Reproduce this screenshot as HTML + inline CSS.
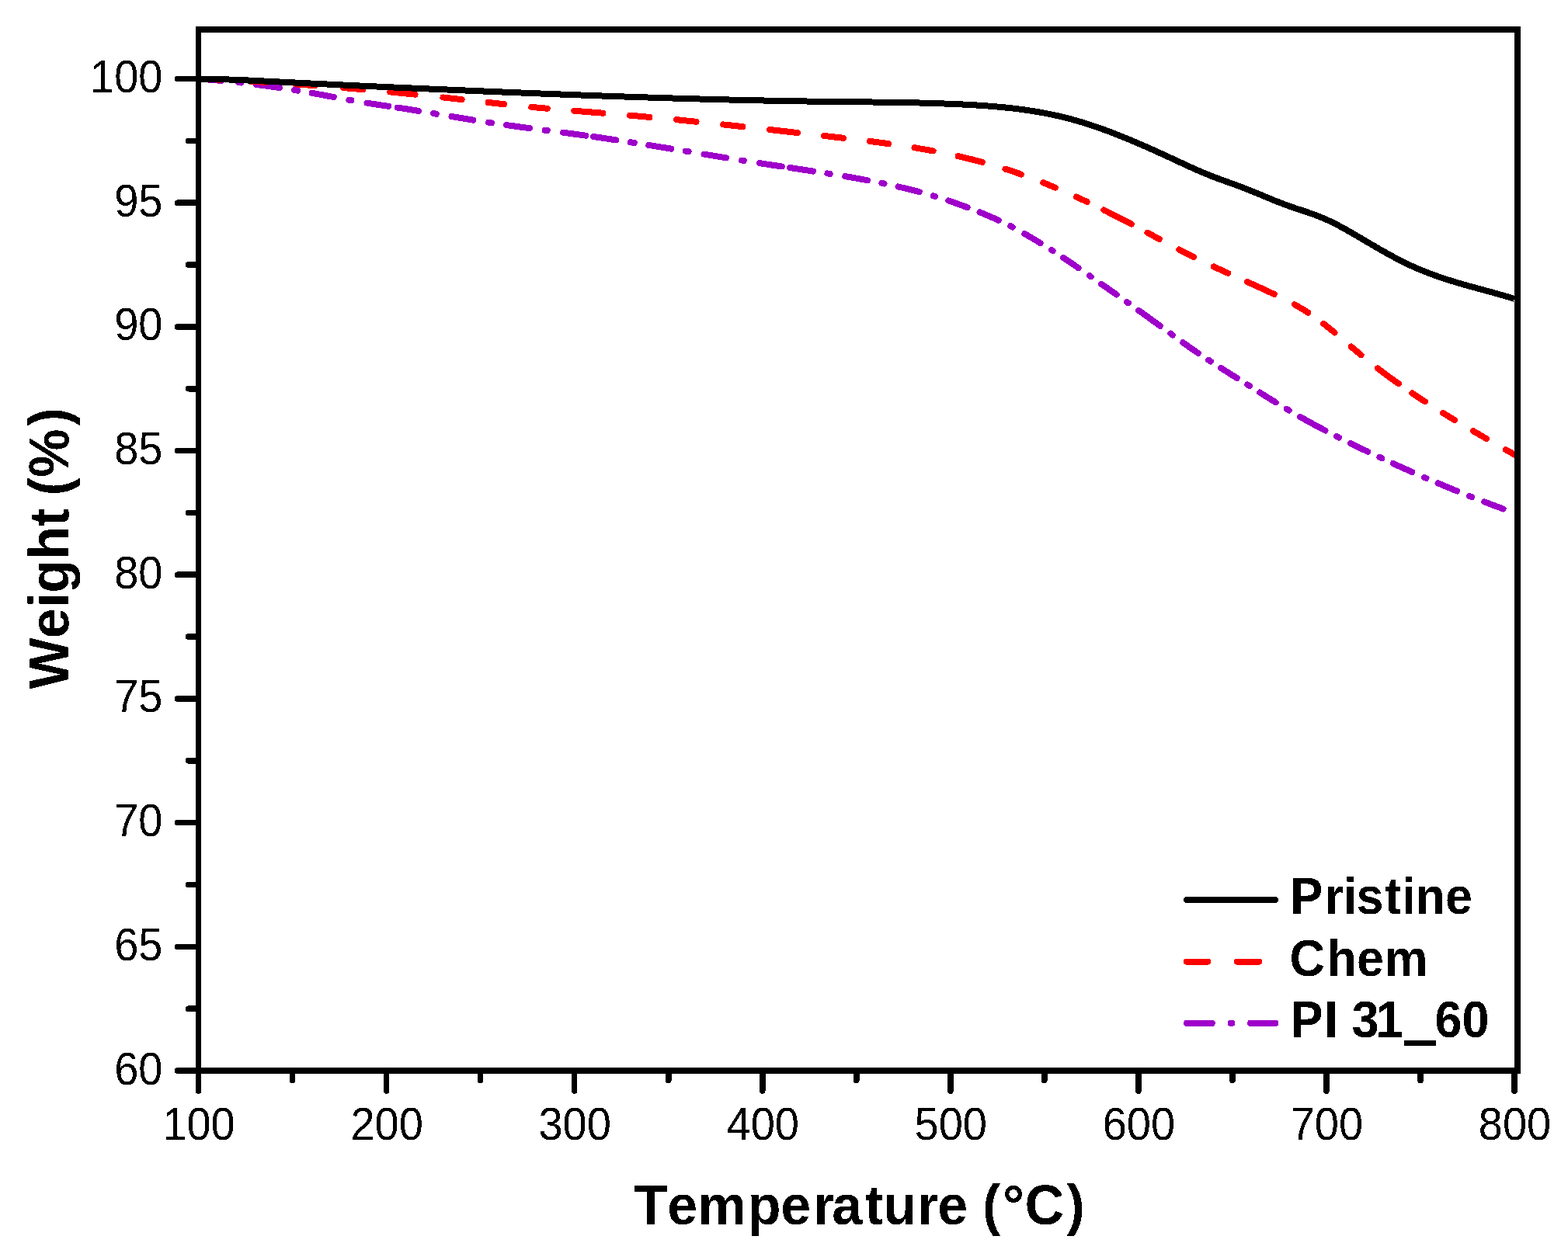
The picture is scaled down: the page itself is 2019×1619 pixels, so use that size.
<!DOCTYPE html>
<html><head><meta charset="utf-8"><title>TGA</title>
<style>html,body{margin:0;padding:0;background:#fff;width:2019px;height:1619px;overflow:hidden}svg{display:block}</style>
</head><body>
<svg width="2019" height="1619" viewBox="0 0 2019 1619" shape-rendering="crispEdges">
<rect width="2019" height="1619" fill="#fff"/>
<defs><filter id="crisp" x="-5%" y="-20%" width="110%" height="140%"><feComponentTransfer><feFuncA type="discrete" tableValues="0 1"/></feComponentTransfer></filter></defs>
<path d="M255.5 101.50 L258.5 101.72 L261.5 101.95 L264.5 102.18 L267.5 102.42 L270.5 102.67 L273.5 102.92 L276.5 103.18 L279.5 103.45 L282.5 103.72 L285.5 104.00 L288.5 104.29 L291.5 104.58 L294.5 104.88 L297.5 105.18 L300.5 105.49 L303.5 105.81 L306.5 106.14 L309.5 106.47 L312.5 106.80 L315.5 107.15 L318.5 107.50 L321.5 107.86 L324.5 108.22 L327.5 108.59 L330.5 108.97 L333.5 109.35 L336.5 109.74 L339.5 110.13 L342.5 110.54 L345.5 110.95 L348.5 111.36 L351.5 111.78 L354.5 112.21 L357.5 112.65 L360.5 113.09 L363.5 113.54 L366.5 113.99 L369.5 114.45 L372.5 114.92 L375.5 115.40 L378.5 115.88 L381.5 116.37 L384.5 116.86 L387.5 117.36 L390.5 117.87 L393.5 118.39 L396.5 118.91 L399.5 119.44 L402.5 119.97 L405.5 120.51 L408.5 121.06 L411.5 121.61 L414.5 122.16 L417.5 122.72 L420.5 123.28 L423.5 123.85 L426.5 124.41 L429.5 124.98 L432.5 125.54 L435.5 126.10 L438.5 126.67 L441.5 127.22 L444.5 127.78 L447.5 128.33 L450.5 128.88 L453.5 129.42 L456.5 129.95 L459.5 130.47 L462.5 130.99 L465.5 131.50 L468.5 132.00 L471.5 132.49 L474.5 132.97 L477.5 133.44 L480.5 133.90 L483.5 134.36 L486.5 134.81 L489.5 135.26 L492.5 135.70 L495.5 136.15 L498.5 136.59 L501.5 137.03 L504.5 137.48 L507.5 137.92 L510.5 138.38 L513.5 138.83 L516.5 139.29 L519.5 139.76 L522.5 140.23 L525.5 140.71 L528.5 141.19 L531.5 141.67 L534.5 142.16 L537.5 142.64 L540.5 143.14 L543.5 143.63 L546.5 144.13 L549.5 144.63 L552.5 145.13 L555.5 145.63 L558.5 146.14 L561.5 146.64 L564.5 147.15 L567.5 147.66 L570.5 148.16 L573.5 148.67 L576.5 149.18 L579.5 149.68 L582.5 150.19 L585.5 150.69 L588.5 151.20 L591.5 151.70 L594.5 152.20 L597.5 152.70 L600.5 153.19 L603.5 153.69 L606.5 154.18 L609.5 154.66 L612.5 155.15 L615.5 155.62 L618.5 156.10 L621.5 156.57 L624.5 157.04 L627.5 157.50 L630.5 157.96 L633.5 158.41 L636.5 158.86 L639.5 159.30 L642.5 159.74 L645.5 160.17 L648.5 160.60 L651.5 161.02 L654.5 161.44 L657.5 161.86 L660.5 162.27 L663.5 162.68 L666.5 163.09 L669.5 163.50 L672.5 163.90 L675.5 164.30 L678.5 164.70 L681.5 165.09 L684.5 165.48 L687.5 165.88 L690.5 166.27 L693.5 166.66 L696.5 167.05 L699.5 167.44 L702.5 167.82 L705.5 168.21 L708.5 168.60 L711.5 168.99 L714.5 169.38 L717.5 169.77 L720.5 170.16 L723.5 170.55 L726.5 170.94 L729.5 171.33 L732.5 171.73 L735.5 172.12 L738.5 172.52 L741.5 172.93 L744.5 173.33 L747.5 173.74 L750.5 174.15 L753.5 174.56 L756.5 174.98 L759.5 175.40 L762.5 175.82 L765.5 176.25 L768.5 176.68 L771.5 177.11 L774.5 177.54 L777.5 177.98 L780.5 178.43 L783.5 178.87 L786.5 179.32 L789.5 179.77 L792.5 180.22 L795.5 180.68 L798.5 181.14 L801.5 181.60 L804.5 182.06 L807.5 182.53 L810.5 182.99 L813.5 183.46 L816.5 183.93 L819.5 184.41 L822.5 184.88 L825.5 185.36 L828.5 185.84 L831.5 186.32 L834.5 186.80 L837.5 187.28 L840.5 187.77 L843.5 188.26 L846.5 188.74 L849.5 189.23 L852.5 189.72 L855.5 190.21 L858.5 190.70 L861.5 191.20 L864.5 191.69 L867.5 192.18 L870.5 192.68 L873.5 193.17 L876.5 193.67 L879.5 194.16 L882.5 194.66 L885.5 195.15 L888.5 195.65 L891.5 196.15 L894.5 196.64 L897.5 197.14 L900.5 197.63 L903.5 198.13 L906.5 198.63 L909.5 199.12 L912.5 199.61 L915.5 200.11 L918.5 200.60 L921.5 201.09 L924.5 201.59 L927.5 202.08 L930.5 202.57 L933.5 203.05 L936.5 203.54 L939.5 204.03 L942.5 204.51 L945.5 205.00 L948.5 205.48 L951.5 205.96 L954.5 206.44 L957.5 206.92 L960.5 207.39 L963.5 207.86 L966.5 208.34 L969.5 208.81 L972.5 209.27 L975.5 209.74 L978.5 210.20 L981.5 210.66 L984.5 211.12 L987.5 211.58 L990.5 212.04 L993.5 212.49 L996.5 212.94 L999.5 213.39 L1002.5 213.84 L1005.5 214.29 L1008.5 214.74 L1011.5 215.19 L1014.5 215.64 L1017.5 216.09 L1020.5 216.54 L1023.5 216.99 L1026.5 217.44 L1029.5 217.89 L1032.5 218.34 L1035.5 218.80 L1038.5 219.25 L1041.5 219.71 L1044.5 220.17 L1047.5 220.63 L1050.5 221.09 L1053.5 221.55 L1056.5 222.02 L1059.5 222.49 L1062.5 222.96 L1065.5 223.43 L1068.5 223.91 L1071.5 224.39 L1074.5 224.88 L1077.5 225.37 L1080.5 225.86 L1083.5 226.36 L1086.5 226.86 L1089.5 227.36 L1092.5 227.88 L1095.5 228.39 L1098.5 228.91 L1101.5 229.44 L1104.5 229.97 L1107.5 230.51 L1110.5 231.06 L1113.5 231.61 L1116.5 232.17 L1119.5 232.73 L1122.5 233.31 L1125.5 233.89 L1128.5 234.48 L1131.5 235.08 L1134.5 235.69 L1137.5 236.31 L1140.5 236.94 L1143.5 237.57 L1146.5 238.22 L1149.5 238.88 L1152.5 239.55 L1155.5 240.23 L1158.5 240.92 L1161.5 241.62 L1164.5 242.34 L1167.5 243.06 L1170.5 243.80 L1173.5 244.56 L1176.5 245.32 L1179.5 246.10 L1182.5 246.89 L1185.5 247.70 L1188.5 248.52 L1191.5 249.36 L1194.5 250.21 L1197.5 251.08 L1200.5 251.96 L1203.5 252.86 L1206.5 253.77 L1209.5 254.70 L1212.5 255.64 L1215.5 256.61 L1218.5 257.58 L1221.5 258.58 L1224.5 259.59 L1227.5 260.62 L1230.5 261.66 L1233.5 262.72 L1236.5 263.79 L1239.5 264.88 L1242.5 265.99 L1245.5 267.11 L1248.5 268.25 L1251.5 269.40 L1254.5 270.57 L1257.5 271.76 L1260.5 272.95 L1263.5 274.16 L1266.5 275.39 L1269.5 276.63 L1272.5 277.89 L1275.5 279.17 L1278.5 280.47 L1281.5 281.80 L1284.5 283.15 L1287.5 284.53 L1290.5 285.94 L1293.5 287.37 L1296.5 288.84 L1299.5 290.35 L1302.5 291.89 L1305.5 293.46 L1308.5 295.07 L1311.5 296.71 L1314.5 298.38 L1317.5 300.07 L1320.5 301.78 L1323.5 303.51 L1326.5 305.26 L1329.5 307.02 L1332.5 308.80 L1335.5 310.60 L1338.5 312.42 L1341.5 314.25 L1344.5 316.11 L1347.5 317.97 L1350.5 319.86 L1353.5 321.76 L1356.5 323.68 L1359.5 325.62 L1362.5 327.57 L1365.5 329.54 L1368.5 331.52 L1371.5 333.52 L1374.5 335.53 L1377.5 337.56 L1380.5 339.60 L1383.5 341.65 L1386.5 343.71 L1389.5 345.78 L1392.5 347.86 L1395.5 349.94 L1398.5 352.03 L1401.5 354.12 L1404.5 356.22 L1407.5 358.31 L1410.5 360.41 L1413.5 362.51 L1416.5 364.61 L1419.5 366.72 L1422.5 368.83 L1425.5 370.94 L1428.5 373.05 L1431.5 375.16 L1434.5 377.28 L1437.5 379.40 L1440.5 381.52 L1443.5 383.65 L1446.5 385.78 L1449.5 387.91 L1452.5 390.04 L1455.5 392.18 L1458.5 394.32 L1461.5 396.47 L1464.5 398.61 L1467.5 400.77 L1470.5 402.92 L1473.5 405.08 L1476.5 407.24 L1479.5 409.41 L1482.5 411.58 L1485.5 413.76 L1488.5 415.93 L1491.5 418.12 L1494.5 420.31 L1497.5 422.50 L1500.5 424.69 L1503.5 426.88 L1506.5 429.08 L1509.5 431.27 L1512.5 433.45 L1515.5 435.63 L1518.5 437.80 L1521.5 439.96 L1524.5 442.11 L1527.5 444.24 L1530.5 446.36 L1533.5 448.46 L1536.5 450.55 L1539.5 452.61 L1542.5 454.65 L1545.5 456.67 L1548.5 458.67 L1551.5 460.65 L1554.5 462.61 L1557.5 464.56 L1560.5 466.49 L1563.5 468.42 L1566.5 470.34 L1569.5 472.25 L1572.5 474.15 L1575.5 476.06 L1578.5 477.96 L1581.5 479.87 L1584.5 481.77 L1587.5 483.67 L1590.5 485.57 L1593.5 487.47 L1596.5 489.36 L1599.5 491.26 L1602.5 493.15 L1605.5 495.04 L1608.5 496.93 L1611.5 498.82 L1614.5 500.71 L1617.5 502.60 L1620.5 504.48 L1623.5 506.36 L1626.5 508.24 L1629.5 510.12 L1632.5 511.99 L1635.5 513.85 L1638.5 515.71 L1641.5 517.56 L1644.5 519.41 L1647.5 521.24 L1650.5 523.06 L1653.5 524.87 L1656.5 526.66 L1659.5 528.44 L1662.5 530.21 L1665.5 531.96 L1668.5 533.70 L1671.5 535.42 L1674.5 537.13 L1677.5 538.82 L1680.5 540.50 L1683.5 542.17 L1686.5 543.83 L1689.5 545.47 L1692.5 547.10 L1695.5 548.72 L1698.5 550.33 L1701.5 551.92 L1704.5 553.51 L1707.5 555.08 L1710.5 556.65 L1713.5 558.20 L1716.5 559.74 L1719.5 561.28 L1722.5 562.80 L1725.5 564.32 L1728.5 565.83 L1731.5 567.33 L1734.5 568.82 L1737.5 570.30 L1740.5 571.77 L1743.5 573.24 L1746.5 574.70 L1749.5 576.16 L1752.5 577.60 L1755.5 579.05 L1758.5 580.48 L1761.5 581.91 L1764.5 583.34 L1767.5 584.76 L1770.5 586.17 L1773.5 587.58 L1776.5 588.98 L1779.5 590.38 L1782.5 591.78 L1785.5 593.16 L1788.5 594.55 L1791.5 595.92 L1794.5 597.29 L1797.5 598.66 L1800.5 600.02 L1803.5 601.38 L1806.5 602.73 L1809.5 604.07 L1812.5 605.41 L1815.5 606.74 L1818.5 608.07 L1821.5 609.39 L1824.5 610.71 L1827.5 612.02 L1830.5 613.33 L1833.5 614.63 L1836.5 615.92 L1839.5 617.21 L1842.5 618.50 L1845.5 619.77 L1848.5 621.05 L1851.5 622.31 L1854.5 623.57 L1857.5 624.83 L1860.5 626.08 L1863.5 627.32 L1866.5 628.56 L1869.5 629.79 L1872.5 631.02 L1875.5 632.24 L1878.5 633.46 L1881.5 634.67 L1884.5 635.87 L1887.5 637.07 L1890.5 638.26 L1893.5 639.45 L1896.5 640.63 L1899.5 641.80 L1902.5 642.97 L1905.5 644.13 L1908.5 645.29 L1911.5 646.44 L1914.5 647.59 L1917.5 648.73 L1920.5 649.86 L1923.5 650.99 L1926.5 652.11 L1929.5 653.22 L1932.5 654.33 L1935.5 655.44 L1938.5 656.54 L1941.5 657.63 L1944.5 658.71 L1947.5 659.79 L1950.0 660.69" fill="none" stroke="#9E00CA" stroke-width="8" stroke-linecap="round" stroke-linejoin="round" stroke-dasharray="29.50 22.21 3.12 19.84 30.48 19.13 4.36 18.67 28.68 19.94 3.15 20.29 28.12 11.53 27.64 19.26 3.85 19.98 28.28 20.04 3.84 19.30 30.07 19.87 3.13 20.47 29.46 10.00 29.41 18.72 5.06 18.83 29.48 18.75 3.85 20.07 28.88 20.46 2.63 20.55 28.93 10.62 30.04 18.72 3.24 19.96 29.05 18.85 3.17 18.43 28.03 18.60 2.51 18.16 25.68 17.28 26.32 17.12 2.82 17.69 23.69 16.74 2.14 16.00 23.69 17.29 2.32 16.24 23.97 16.43 2.21 16.35 34.19 16.60 3.34 16.41 23.90 16.06 3.22 15.78 24.39 15.73 3.19 15.83 24.14 16.37 3.60 16.52 36.90 16.20 3.48 16.87 24.55 16.81 3.31 15.86 26.86 17.35 2.50 16.41 26.51 17.24 3.33 17.06 26.17 115.31"/>
<path d="M255.5 101.50 L258.5 101.62 L261.5 101.74 L264.5 101.87 L267.5 102.00 L270.5 102.13 L273.5 102.26 L276.5 102.40 L279.5 102.54 L282.5 102.67 L285.5 102.82 L288.5 102.96 L291.5 103.11 L294.5 103.25 L297.5 103.40 L300.5 103.55 L303.5 103.71 L306.5 103.87 L309.5 104.02 L312.5 104.18 L315.5 104.35 L318.5 104.51 L321.5 104.68 L324.5 104.85 L327.5 105.02 L330.5 105.19 L333.5 105.37 L336.5 105.54 L339.5 105.72 L342.5 105.91 L345.5 106.09 L348.5 106.27 L351.5 106.46 L354.5 106.65 L357.5 106.84 L360.5 107.04 L363.5 107.23 L366.5 107.43 L369.5 107.63 L372.5 107.83 L375.5 108.04 L378.5 108.24 L381.5 108.45 L384.5 108.66 L387.5 108.87 L390.5 109.09 L393.5 109.30 L396.5 109.52 L399.5 109.74 L402.5 109.96 L405.5 110.19 L408.5 110.41 L411.5 110.64 L414.5 110.87 L417.5 111.10 L420.5 111.34 L423.5 111.57 L426.5 111.81 L429.5 112.05 L432.5 112.29 L435.5 112.54 L438.5 112.78 L441.5 113.03 L444.5 113.28 L447.5 113.53 L450.5 113.78 L453.5 114.04 L456.5 114.30 L459.5 114.56 L462.5 114.82 L465.5 115.08 L468.5 115.35 L471.5 115.61 L474.5 115.88 L477.5 116.15 L480.5 116.42 L483.5 116.70 L486.5 116.98 L489.5 117.25 L492.5 117.53 L495.5 117.82 L498.5 118.10 L501.5 118.39 L504.5 118.67 L507.5 118.96 L510.5 119.25 L513.5 119.55 L516.5 119.84 L519.5 120.14 L522.5 120.44 L525.5 120.74 L528.5 121.04 L531.5 121.34 L534.5 121.65 L537.5 121.96 L540.5 122.27 L543.5 122.58 L546.5 122.89 L549.5 123.21 L552.5 123.53 L555.5 123.84 L558.5 124.16 L561.5 124.49 L564.5 124.81 L567.5 125.14 L570.5 125.46 L573.5 125.79 L576.5 126.12 L579.5 126.46 L582.5 126.79 L585.5 127.13 L588.5 127.46 L591.5 127.80 L594.5 128.13 L597.5 128.47 L600.5 128.81 L603.5 129.15 L606.5 129.49 L609.5 129.83 L612.5 130.16 L615.5 130.50 L618.5 130.84 L621.5 131.18 L624.5 131.51 L627.5 131.85 L630.5 132.18 L633.5 132.52 L636.5 132.85 L639.5 133.18 L642.5 133.51 L645.5 133.84 L648.5 134.16 L651.5 134.49 L654.5 134.81 L657.5 135.13 L660.5 135.44 L663.5 135.76 L666.5 136.07 L669.5 136.38 L672.5 136.68 L675.5 136.98 L678.5 137.28 L681.5 137.58 L684.5 137.87 L687.5 138.16 L690.5 138.44 L693.5 138.72 L696.5 139.00 L699.5 139.28 L702.5 139.55 L705.5 139.82 L708.5 140.09 L711.5 140.35 L714.5 140.61 L717.5 140.87 L720.5 141.13 L723.5 141.39 L726.5 141.64 L729.5 141.90 L732.5 142.15 L735.5 142.40 L738.5 142.64 L741.5 142.89 L744.5 143.14 L747.5 143.38 L750.5 143.63 L753.5 143.87 L756.5 144.12 L759.5 144.36 L762.5 144.60 L765.5 144.84 L768.5 145.09 L771.5 145.33 L774.5 145.57 L777.5 145.82 L780.5 146.06 L783.5 146.31 L786.5 146.55 L789.5 146.80 L792.5 147.05 L795.5 147.30 L798.5 147.55 L801.5 147.80 L804.5 148.06 L807.5 148.31 L810.5 148.57 L813.5 148.83 L816.5 149.09 L819.5 149.36 L822.5 149.63 L825.5 149.89 L828.5 150.16 L831.5 150.44 L834.5 150.71 L837.5 150.99 L840.5 151.26 L843.5 151.54 L846.5 151.82 L849.5 152.11 L852.5 152.39 L855.5 152.68 L858.5 152.97 L861.5 153.26 L864.5 153.55 L867.5 153.84 L870.5 154.14 L873.5 154.43 L876.5 154.73 L879.5 155.03 L882.5 155.33 L885.5 155.63 L888.5 155.94 L891.5 156.24 L894.5 156.55 L897.5 156.86 L900.5 157.17 L903.5 157.48 L906.5 157.79 L909.5 158.10 L912.5 158.41 L915.5 158.73 L918.5 159.05 L921.5 159.36 L924.5 159.68 L927.5 160.00 L930.5 160.32 L933.5 160.65 L936.5 160.97 L939.5 161.29 L942.5 161.62 L945.5 161.94 L948.5 162.27 L951.5 162.60 L954.5 162.93 L957.5 163.26 L960.5 163.59 L963.5 163.92 L966.5 164.25 L969.5 164.58 L972.5 164.92 L975.5 165.25 L978.5 165.58 L981.5 165.92 L984.5 166.26 L987.5 166.59 L990.5 166.93 L993.5 167.27 L996.5 167.60 L999.5 167.94 L1002.5 168.28 L1005.5 168.62 L1008.5 168.96 L1011.5 169.30 L1014.5 169.64 L1017.5 169.98 L1020.5 170.32 L1023.5 170.66 L1026.5 171.00 L1029.5 171.35 L1032.5 171.69 L1035.5 172.03 L1038.5 172.37 L1041.5 172.71 L1044.5 173.06 L1047.5 173.40 L1050.5 173.74 L1053.5 174.08 L1056.5 174.43 L1059.5 174.77 L1062.5 175.11 L1065.5 175.45 L1068.5 175.80 L1071.5 176.14 L1074.5 176.48 L1077.5 176.83 L1080.5 177.17 L1083.5 177.52 L1086.5 177.87 L1089.5 178.22 L1092.5 178.57 L1095.5 178.93 L1098.5 179.28 L1101.5 179.64 L1104.5 180.00 L1107.5 180.37 L1110.5 180.74 L1113.5 181.11 L1116.5 181.48 L1119.5 181.86 L1122.5 182.25 L1125.5 182.63 L1128.5 183.02 L1131.5 183.42 L1134.5 183.82 L1137.5 184.23 L1140.5 184.64 L1143.5 185.05 L1146.5 185.48 L1149.5 185.90 L1152.5 186.34 L1155.5 186.78 L1158.5 187.22 L1161.5 187.68 L1164.5 188.14 L1167.5 188.60 L1170.5 189.08 L1173.5 189.56 L1176.5 190.05 L1179.5 190.55 L1182.5 191.05 L1185.5 191.57 L1188.5 192.09 L1191.5 192.62 L1194.5 193.16 L1197.5 193.71 L1200.5 194.27 L1203.5 194.84 L1206.5 195.41 L1209.5 196.00 L1212.5 196.60 L1215.5 197.21 L1218.5 197.82 L1221.5 198.45 L1224.5 199.09 L1227.5 199.75 L1230.5 200.41 L1233.5 201.08 L1236.5 201.77 L1239.5 202.47 L1242.5 203.18 L1245.5 203.90 L1248.5 204.63 L1251.5 205.38 L1254.5 206.14 L1257.5 206.92 L1260.5 207.71 L1263.5 208.51 L1266.5 209.32 L1269.5 210.15 L1272.5 210.99 L1275.5 211.85 L1278.5 212.73 L1281.5 213.61 L1284.5 214.52 L1287.5 215.43 L1290.5 216.37 L1293.5 217.32 L1296.5 218.28 L1299.5 219.26 L1302.5 220.26 L1305.5 221.27 L1308.5 222.29 L1311.5 223.34 L1314.5 224.39 L1317.5 225.46 L1320.5 226.55 L1323.5 227.65 L1326.5 228.77 L1329.5 229.90 L1332.5 231.04 L1335.5 232.19 L1338.5 233.37 L1341.5 234.55 L1344.5 235.75 L1347.5 236.96 L1350.5 238.18 L1353.5 239.42 L1356.5 240.67 L1359.5 241.93 L1362.5 243.20 L1365.5 244.49 L1368.5 245.79 L1371.5 247.10 L1374.5 248.42 L1377.5 249.75 L1380.5 251.10 L1383.5 252.45 L1386.5 253.82 L1389.5 255.20 L1392.5 256.59 L1395.5 257.99 L1398.5 259.40 L1401.5 260.82 L1404.5 262.25 L1407.5 263.69 L1410.5 265.14 L1413.5 266.60 L1416.5 268.07 L1419.5 269.55 L1422.5 271.03 L1425.5 272.53 L1428.5 274.04 L1431.5 275.55 L1434.5 277.07 L1437.5 278.61 L1440.5 280.15 L1443.5 281.69 L1446.5 283.25 L1449.5 284.81 L1452.5 286.38 L1455.5 287.96 L1458.5 289.55 L1461.5 291.14 L1464.5 292.74 L1467.5 294.34 L1470.5 295.95 L1473.5 297.56 L1476.5 299.18 L1479.5 300.79 L1482.5 302.41 L1485.5 304.03 L1488.5 305.65 L1491.5 307.26 L1494.5 308.88 L1497.5 310.49 L1500.5 312.09 L1503.5 313.70 L1506.5 315.29 L1509.5 316.89 L1512.5 318.47 L1515.5 320.05 L1518.5 321.62 L1521.5 323.17 L1524.5 324.72 L1527.5 326.26 L1530.5 327.79 L1533.5 329.30 L1536.5 330.80 L1539.5 332.29 L1542.5 333.76 L1545.5 335.22 L1548.5 336.67 L1551.5 338.10 L1554.5 339.53 L1557.5 340.95 L1560.5 342.35 L1563.5 343.75 L1566.5 345.14 L1569.5 346.52 L1572.5 347.89 L1575.5 349.26 L1578.5 350.63 L1581.5 351.99 L1584.5 353.35 L1587.5 354.70 L1590.5 356.05 L1593.5 357.40 L1596.5 358.75 L1599.5 360.10 L1602.5 361.45 L1605.5 362.80 L1608.5 364.15 L1611.5 365.50 L1614.5 366.86 L1617.5 368.23 L1620.5 369.59 L1623.5 370.97 L1626.5 372.35 L1629.5 373.73 L1632.5 375.13 L1635.5 376.53 L1638.5 377.94 L1641.5 379.37 L1644.5 380.80 L1647.5 382.25 L1650.5 383.71 L1653.5 385.20 L1656.5 386.71 L1659.5 388.26 L1662.5 389.83 L1665.5 391.45 L1668.5 393.10 L1671.5 394.80 L1674.5 396.54 L1677.5 398.34 L1680.5 400.19 L1683.5 402.10 L1686.5 404.08 L1689.5 406.11 L1692.5 408.21 L1695.5 410.36 L1698.5 412.57 L1701.5 414.83 L1704.5 417.13 L1707.5 419.48 L1710.5 421.86 L1713.5 424.28 L1716.5 426.74 L1719.5 429.23 L1722.5 431.74 L1725.5 434.27 L1728.5 436.82 L1731.5 439.38 L1734.5 441.95 L1737.5 444.52 L1740.5 447.09 L1743.5 449.65 L1746.5 452.20 L1749.5 454.73 L1752.5 457.24 L1755.5 459.72 L1758.5 462.17 L1761.5 464.60 L1764.5 467.00 L1767.5 469.37 L1770.5 471.72 L1773.5 474.04 L1776.5 476.34 L1779.5 478.62 L1782.5 480.88 L1785.5 483.11 L1788.5 485.32 L1791.5 487.51 L1794.5 489.68 L1797.5 491.84 L1800.5 493.97 L1803.5 496.09 L1806.5 498.19 L1809.5 500.27 L1812.5 502.33 L1815.5 504.38 L1818.5 506.41 L1821.5 508.43 L1824.5 510.43 L1827.5 512.42 L1830.5 514.39 L1833.5 516.35 L1836.5 518.30 L1839.5 520.23 L1842.5 522.15 L1845.5 524.05 L1848.5 525.95 L1851.5 527.83 L1854.5 529.70 L1857.5 531.56 L1860.5 533.41 L1863.5 535.25 L1866.5 537.08 L1869.5 538.90 L1872.5 540.71 L1875.5 542.51 L1878.5 544.30 L1881.5 546.09 L1884.5 547.87 L1887.5 549.64 L1890.5 551.40 L1893.5 553.15 L1896.5 554.90 L1899.5 556.65 L1902.5 558.39 L1905.5 560.12 L1908.5 561.85 L1911.5 563.58 L1914.5 565.30 L1917.5 567.01 L1920.5 568.73 L1923.5 570.44 L1926.5 572.15 L1929.5 573.86 L1932.5 575.56 L1935.5 577.26 L1938.5 578.97 L1941.5 580.67 L1944.5 582.37 L1947.5 584.07 L1950.0 585.49" fill="none" stroke="#FF0000" stroke-width="8" stroke-linecap="round" stroke-linejoin="round" stroke-dasharray="27.53 38.95 21.24 37.78 24.76 36.81 25.29 35.05 32.36 36.10 24.35 34.21 20.62 35.39 20.49 34.73 37.32 34.72 25.50 34.86 25.53 34.79 25.45 34.81 36.23 34.22 24.96 34.25 24.41 33.78 24.47 32.78 31.95 30.97 21.64 30.36 16.76 29.71 15.11 24.01 40.01 23.25 17.49 28.88 20.99 28.72 20.02 27.31 38.31 29.36 20.17 24.50 18.22 28.21 16.50 27.53 33.30 21.39 19.78 27.33 17.56 27.65 20.09 28.31 12.88 100.00"/>
<path d="M255.5 101.50 L258.5 101.54 L261.5 101.58 L264.5 101.64 L267.5 101.70 L270.5 101.76 L273.5 101.83 L276.5 101.91 L279.5 101.99 L282.5 102.08 L285.5 102.17 L288.5 102.27 L291.5 102.37 L294.5 102.48 L297.5 102.59 L300.5 102.70 L303.5 102.82 L306.5 102.94 L309.5 103.07 L312.5 103.20 L315.5 103.33 L318.5 103.46 L321.5 103.60 L324.5 103.74 L327.5 103.88 L330.5 104.03 L333.5 104.17 L336.5 104.32 L339.5 104.47 L342.5 104.62 L345.5 104.77 L348.5 104.92 L351.5 105.07 L354.5 105.22 L357.5 105.38 L360.5 105.53 L363.5 105.68 L366.5 105.83 L369.5 105.98 L372.5 106.13 L375.5 106.28 L378.5 106.43 L381.5 106.58 L384.5 106.73 L387.5 106.88 L390.5 107.03 L393.5 107.18 L396.5 107.32 L399.5 107.47 L402.5 107.62 L405.5 107.76 L408.5 107.91 L411.5 108.05 L414.5 108.20 L417.5 108.34 L420.5 108.49 L423.5 108.63 L426.5 108.77 L429.5 108.92 L432.5 109.06 L435.5 109.20 L438.5 109.34 L441.5 109.49 L444.5 109.63 L447.5 109.77 L450.5 109.91 L453.5 110.05 L456.5 110.19 L459.5 110.33 L462.5 110.47 L465.5 110.60 L468.5 110.74 L471.5 110.88 L474.5 111.02 L477.5 111.16 L480.5 111.29 L483.5 111.43 L486.5 111.57 L489.5 111.70 L492.5 111.84 L495.5 111.98 L498.5 112.11 L501.5 112.25 L504.5 112.38 L507.5 112.52 L510.5 112.65 L513.5 112.78 L516.5 112.92 L519.5 113.05 L522.5 113.19 L525.5 113.32 L528.5 113.45 L531.5 113.58 L534.5 113.72 L537.5 113.85 L540.5 113.98 L543.5 114.11 L546.5 114.24 L549.5 114.37 L552.5 114.51 L555.5 114.64 L558.5 114.77 L561.5 114.90 L564.5 115.03 L567.5 115.16 L570.5 115.29 L573.5 115.42 L576.5 115.55 L579.5 115.68 L582.5 115.81 L585.5 115.94 L588.5 116.06 L591.5 116.19 L594.5 116.32 L597.5 116.45 L600.5 116.58 L603.5 116.71 L606.5 116.83 L609.5 116.96 L612.5 117.09 L615.5 117.22 L618.5 117.34 L621.5 117.47 L624.5 117.59 L627.5 117.72 L630.5 117.85 L633.5 117.97 L636.5 118.10 L639.5 118.22 L642.5 118.35 L645.5 118.47 L648.5 118.59 L651.5 118.72 L654.5 118.84 L657.5 118.96 L660.5 119.09 L663.5 119.21 L666.5 119.33 L669.5 119.45 L672.5 119.58 L675.5 119.70 L678.5 119.82 L681.5 119.94 L684.5 120.06 L687.5 120.18 L690.5 120.30 L693.5 120.42 L696.5 120.54 L699.5 120.65 L702.5 120.77 L705.5 120.89 L708.5 121.01 L711.5 121.12 L714.5 121.24 L717.5 121.36 L720.5 121.47 L723.5 121.59 L726.5 121.70 L729.5 121.82 L732.5 121.93 L735.5 122.04 L738.5 122.16 L741.5 122.27 L744.5 122.38 L747.5 122.50 L750.5 122.61 L753.5 122.72 L756.5 122.83 L759.5 122.94 L762.5 123.05 L765.5 123.16 L768.5 123.27 L771.5 123.37 L774.5 123.48 L777.5 123.59 L780.5 123.70 L783.5 123.80 L786.5 123.91 L789.5 124.01 L792.5 124.12 L795.5 124.22 L798.5 124.33 L801.5 124.43 L804.5 124.53 L807.5 124.63 L810.5 124.73 L813.5 124.84 L816.5 124.94 L819.5 125.04 L822.5 125.13 L825.5 125.23 L828.5 125.33 L831.5 125.43 L834.5 125.53 L837.5 125.62 L840.5 125.72 L843.5 125.81 L846.5 125.91 L849.5 126.00 L852.5 126.10 L855.5 126.19 L858.5 126.28 L861.5 126.37 L864.5 126.46 L867.5 126.55 L870.5 126.64 L873.5 126.73 L876.5 126.82 L879.5 126.91 L882.5 127.00 L885.5 127.08 L888.5 127.17 L891.5 127.25 L894.5 127.34 L897.5 127.42 L900.5 127.50 L903.5 127.59 L906.5 127.67 L909.5 127.75 L912.5 127.83 L915.5 127.91 L918.5 127.99 L921.5 128.07 L924.5 128.14 L927.5 128.22 L930.5 128.30 L933.5 128.37 L936.5 128.45 L939.5 128.52 L942.5 128.59 L945.5 128.66 L948.5 128.74 L951.5 128.81 L954.5 128.88 L957.5 128.95 L960.5 129.01 L963.5 129.08 L966.5 129.15 L969.5 129.21 L972.5 129.28 L975.5 129.34 L978.5 129.41 L981.5 129.47 L984.5 129.53 L987.5 129.59 L990.5 129.65 L993.5 129.71 L996.5 129.77 L999.5 129.83 L1002.5 129.89 L1005.5 129.94 L1008.5 130.00 L1011.5 130.05 L1014.5 130.11 L1017.5 130.16 L1020.5 130.21 L1023.5 130.26 L1026.5 130.31 L1029.5 130.36 L1032.5 130.41 L1035.5 130.46 L1038.5 130.50 L1041.5 130.55 L1044.5 130.59 L1047.5 130.64 L1050.5 130.68 L1053.5 130.72 L1056.5 130.76 L1059.5 130.80 L1062.5 130.84 L1065.5 130.88 L1068.5 130.92 L1071.5 130.95 L1074.5 130.99 L1077.5 131.02 L1080.5 131.06 L1083.5 131.09 L1086.5 131.12 L1089.5 131.15 L1092.5 131.18 L1095.5 131.22 L1098.5 131.25 L1101.5 131.28 L1104.5 131.31 L1107.5 131.34 L1110.5 131.37 L1113.5 131.40 L1116.5 131.43 L1119.5 131.47 L1122.5 131.50 L1125.5 131.53 L1128.5 131.57 L1131.5 131.61 L1134.5 131.64 L1137.5 131.68 L1140.5 131.72 L1143.5 131.76 L1146.5 131.81 L1149.5 131.85 L1152.5 131.90 L1155.5 131.95 L1158.5 132.00 L1161.5 132.05 L1164.5 132.10 L1167.5 132.16 L1170.5 132.22 L1173.5 132.28 L1176.5 132.34 L1179.5 132.41 L1182.5 132.48 L1185.5 132.56 L1188.5 132.63 L1191.5 132.71 L1194.5 132.79 L1197.5 132.88 L1200.5 132.97 L1203.5 133.06 L1206.5 133.16 L1209.5 133.26 L1212.5 133.37 L1215.5 133.48 L1218.5 133.59 L1221.5 133.71 L1224.5 133.83 L1227.5 133.95 L1230.5 134.08 L1233.5 134.22 L1236.5 134.36 L1239.5 134.51 L1242.5 134.66 L1245.5 134.81 L1248.5 134.98 L1251.5 135.14 L1254.5 135.32 L1257.5 135.50 L1260.5 135.69 L1263.5 135.89 L1266.5 136.10 L1269.5 136.31 L1272.5 136.54 L1275.5 136.77 L1278.5 137.01 L1281.5 137.27 L1284.5 137.53 L1287.5 137.81 L1290.5 138.09 L1293.5 138.39 L1296.5 138.70 L1299.5 139.03 L1302.5 139.36 L1305.5 139.71 L1308.5 140.07 L1311.5 140.45 L1314.5 140.84 L1317.5 141.25 L1320.5 141.67 L1323.5 142.10 L1326.5 142.56 L1329.5 143.02 L1332.5 143.51 L1335.5 144.01 L1338.5 144.53 L1341.5 145.07 L1344.5 145.63 L1347.5 146.20 L1350.5 146.79 L1353.5 147.41 L1356.5 148.04 L1359.5 148.69 L1362.5 149.36 L1365.5 150.06 L1368.5 150.77 L1371.5 151.51 L1374.5 152.27 L1377.5 153.05 L1380.5 153.85 L1383.5 154.68 L1386.5 155.53 L1389.5 156.40 L1392.5 157.29 L1395.5 158.21 L1398.5 159.15 L1401.5 160.11 L1404.5 161.08 L1407.5 162.08 L1410.5 163.10 L1413.5 164.13 L1416.5 165.19 L1419.5 166.26 L1422.5 167.35 L1425.5 168.46 L1428.5 169.58 L1431.5 170.72 L1434.5 171.87 L1437.5 173.04 L1440.5 174.23 L1443.5 175.42 L1446.5 176.64 L1449.5 177.86 L1452.5 179.10 L1455.5 180.35 L1458.5 181.61 L1461.5 182.88 L1464.5 184.16 L1467.5 185.46 L1470.5 186.76 L1473.5 188.08 L1476.5 189.40 L1479.5 190.73 L1482.5 192.07 L1485.5 193.41 L1488.5 194.76 L1491.5 196.12 L1494.5 197.49 L1497.5 198.86 L1500.5 200.24 L1503.5 201.62 L1506.5 203.00 L1509.5 204.39 L1512.5 205.79 L1515.5 207.18 L1518.5 208.58 L1521.5 209.97 L1524.5 211.36 L1527.5 212.75 L1530.5 214.12 L1533.5 215.49 L1536.5 216.84 L1539.5 218.19 L1542.5 219.51 L1545.5 220.82 L1548.5 222.10 L1551.5 223.36 L1554.5 224.60 L1557.5 225.81 L1560.5 227.00 L1563.5 228.15 L1566.5 229.28 L1569.5 230.39 L1572.5 231.48 L1575.5 232.57 L1578.5 233.64 L1581.5 234.71 L1584.5 235.79 L1587.5 236.86 L1590.5 237.95 L1593.5 239.05 L1596.5 240.16 L1599.5 241.30 L1602.5 242.45 L1605.5 243.63 L1608.5 244.83 L1611.5 246.04 L1614.5 247.27 L1617.5 248.50 L1620.5 249.75 L1623.5 250.99 L1626.5 252.24 L1629.5 253.49 L1632.5 254.74 L1635.5 255.98 L1638.5 257.20 L1641.5 258.42 L1644.5 259.62 L1647.5 260.81 L1650.5 261.97 L1653.5 263.11 L1656.5 264.22 L1659.5 265.31 L1662.5 266.36 L1665.5 267.39 L1668.5 268.40 L1671.5 269.40 L1674.5 270.39 L1677.5 271.38 L1680.5 272.37 L1683.5 273.38 L1686.5 274.40 L1689.5 275.45 L1692.5 276.53 L1695.5 277.65 L1698.5 278.81 L1701.5 280.02 L1704.5 281.29 L1707.5 282.61 L1710.5 283.99 L1713.5 285.41 L1716.5 286.89 L1719.5 288.40 L1722.5 289.96 L1725.5 291.55 L1728.5 293.17 L1731.5 294.82 L1734.5 296.51 L1737.5 298.21 L1740.5 299.93 L1743.5 301.67 L1746.5 303.42 L1749.5 305.19 L1752.5 306.96 L1755.5 308.73 L1758.5 310.50 L1761.5 312.27 L1764.5 314.03 L1767.5 315.79 L1770.5 317.53 L1773.5 319.27 L1776.5 320.99 L1779.5 322.70 L1782.5 324.39 L1785.5 326.07 L1788.5 327.73 L1791.5 329.37 L1794.5 330.98 L1797.5 332.58 L1800.5 334.15 L1803.5 335.69 L1806.5 337.21 L1809.5 338.69 L1812.5 340.15 L1815.5 341.57 L1818.5 342.96 L1821.5 344.31 L1824.5 345.63 L1827.5 346.91 L1830.5 348.16 L1833.5 349.38 L1836.5 350.57 L1839.5 351.73 L1842.5 352.86 L1845.5 353.96 L1848.5 355.04 L1851.5 356.10 L1854.5 357.13 L1857.5 358.14 L1860.5 359.12 L1863.5 360.09 L1866.5 361.04 L1869.5 361.97 L1872.5 362.89 L1875.5 363.79 L1878.5 364.68 L1881.5 365.56 L1884.5 366.42 L1887.5 367.28 L1890.5 368.12 L1893.5 368.96 L1896.5 369.79 L1899.5 370.62 L1902.5 371.44 L1905.5 372.26 L1908.5 373.08 L1911.5 373.90 L1914.5 374.72 L1917.5 375.54 L1920.5 376.36 L1923.5 377.19 L1926.5 378.02 L1929.5 378.86 L1932.5 379.71 L1935.5 380.57 L1938.5 381.44 L1941.5 382.32 L1944.5 383.21 L1947.5 384.12 L1950.0 384.88" fill="none" stroke="#000" stroke-width="8" stroke-linecap="butt" stroke-linejoin="round"/>
<g fill="#000">
<rect x="252" y="34" width="7" height="1349"/>
<rect x="252" y="34" width="1706" height="8"/>
<rect x="1950" y="34" width="8" height="1349"/>
<rect x="252" y="1375" width="1706" height="8"/>
</g>
<path d="M255.5 1380 L255.5 1405 M376.5 1380 L376.5 1391.5 M497.6 1380 L497.6 1405 M618.6 1380 L618.6 1391.5 M739.6 1380 L739.6 1405 M860.7 1380 L860.7 1391.5 M981.7 1380 L981.7 1405 M1102.8 1380 L1102.8 1391.5 M1223.8 1380 L1223.8 1405 M1344.8 1380 L1344.8 1391.5 M1465.9 1380 L1465.9 1405 M1586.9 1380 L1586.9 1391.5 M1707.9 1380 L1707.9 1405 M1829.0 1380 L1829.0 1391.5 M1950.0 1380 L1950.0 1405 M255 101.5 L228.5 101.5 M255 181.3 L242.5 181.3 M255 261.2 L228.5 261.2 M255 341.0 L242.5 341.0 M255 420.9 L228.5 420.9 M255 500.7 L242.5 500.7 M255 580.6 L228.5 580.6 M255 660.4 L242.5 660.4 M255 740.2 L228.5 740.2 M255 820.1 L242.5 820.1 M255 899.9 L228.5 899.9 M255 979.8 L242.5 979.8 M255 1059.6 L228.5 1059.6 M255 1139.5 L242.5 1139.5 M255 1219.3 L228.5 1219.3 M255 1299.2 L242.5 1299.2 M255 1379.0 L228.5 1379.0" stroke="#000" stroke-width="7.6" stroke-linecap="round" fill="none"/>
<g font-family="'Liberation Sans', Arial, sans-serif" font-size="56" fill="#000" filter="url(#crisp)"><text transform="translate(256.0 1468) scale(1 1.05)" text-anchor="middle">100</text><text transform="translate(498.1 1468) scale(1 1.05)" text-anchor="middle">200</text><text transform="translate(740.1 1468) scale(1 1.05)" text-anchor="middle">300</text><text transform="translate(982.2 1468) scale(1 1.05)" text-anchor="middle">400</text><text transform="translate(1224.3 1468) scale(1 1.05)" text-anchor="middle">500</text><text transform="translate(1466.4 1468) scale(1 1.05)" text-anchor="middle">600</text><text transform="translate(1708.4 1468) scale(1 1.05)" text-anchor="middle">700</text><text transform="translate(1950.5 1468) scale(1 1.05)" text-anchor="middle">800</text><text transform="translate(209.5 119.0) scale(1 1.05)" text-anchor="end">100</text><text transform="translate(209.5 278.7) scale(1 1.05)" text-anchor="end">95</text><text transform="translate(209.5 438.4) scale(1 1.05)" text-anchor="end">90</text><text transform="translate(209.5 598.1) scale(1 1.05)" text-anchor="end">85</text><text transform="translate(209.5 757.8) scale(1 1.05)" text-anchor="end">80</text><text transform="translate(209.5 917.4) scale(1 1.05)" text-anchor="end">75</text><text transform="translate(209.5 1077.1) scale(1 1.05)" text-anchor="end">70</text><text transform="translate(209.5 1236.8) scale(1 1.05)" text-anchor="end">65</text><text transform="translate(209.5 1396.5) scale(1 1.05)" text-anchor="end">60</text></g>
<g filter="url(#crisp)">
<text transform="translate(0 1577) scale(1 1.04)" x="816.4 859.3 898.5 962.8 1005.3 1047.3 1071.3 1113.8 1137.3 1181.2 1207.2 1245.2 1265.0 1291.1 1319.6 1373.5" y="0" font-family="'Liberation Sans', Arial, sans-serif" font-weight="bold" font-size="70">Temperature (°C)</text>
<text transform="translate(88 0) rotate(-90) scale(1 1.04)" x="-887.4 -822.3 -782.4 -763.8 -720.8 -677.9 -653.9 -638.4 -614.8 -548.4" y="0" font-family="'Liberation Sans', Arial, sans-serif" font-weight="bold" font-size="70">Weight (%)</text>
</g>
<path d="M1528 1159 L1642 1159" stroke="#000" stroke-width="8.3" stroke-linecap="round"/>
<path d="M1528 1238.6 L1555 1238.6 M1593 1238.6 L1621 1238.6" stroke="#FF0000" stroke-width="8" stroke-linecap="round"/>
<path d="M1528 1317.8 L1560.7 1317.8 M1584.5 1317.8 L1586.5 1317.8 M1610 1317.8 L1642.4 1317.8" stroke="#9E00CA" stroke-width="8" stroke-linecap="round"/>
<g font-family="'Liberation Sans', Arial, sans-serif" font-weight="bold" font-size="63" fill="#000" filter="url(#crisp)">
<text transform="translate(0 1177.0) scale(1 1.05)" x="1661.3 1705.4 1730.1 1746.4 1783.0 1805.2 1822.5 1861.0" y="0">Pristine</text>
<text transform="translate(0 1256.5) scale(1 1.05)" x="1660.5 1708.5 1747.0 1782.5" y="0">Chem</text>
<text transform="translate(0 1336.3) scale(1 1.05)" x="1661.5 1705.2 1720.2 1740.5 1771.5 1811.0 1847.4 1882.5" y="0">PI 31<tspan dy="1.0" stroke="#000" stroke-width="4.4" stroke-linejoin="miter">_</tspan><tspan dy="-1.0">60</tspan></text>
</g>
</svg>
</body></html>
